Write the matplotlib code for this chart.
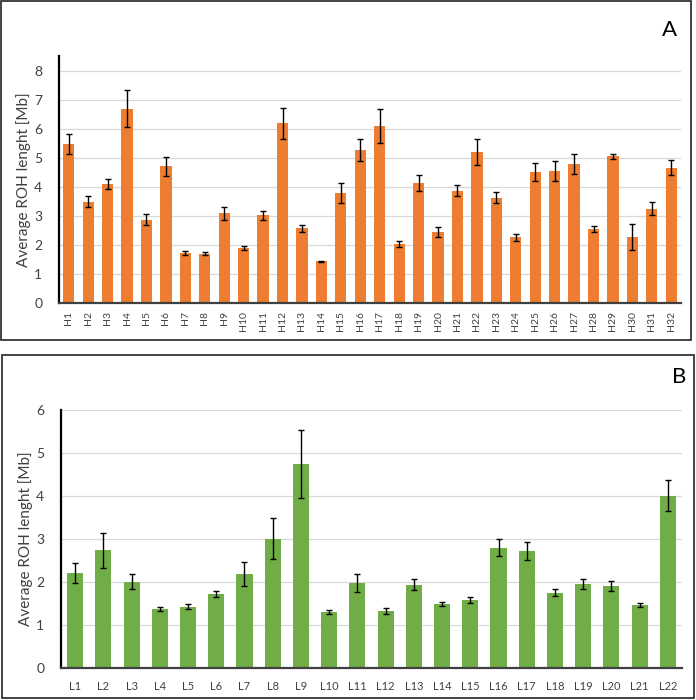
import matplotlib.pyplot as plt
from matplotlib.patches import Rectangle

plt.rcParams['font.family'] = ['Lato', 'DejaVu Sans']

# panel A data
h_labels = ['H' + str(i) for i in range(1, 33)]
h_vals = [5.47, 3.49, 4.10, 6.69, 2.87, 4.71, 1.72, 1.70, 3.08, 1.89,
          3.02, 6.19, 2.57, 1.44, 3.78, 5.26, 6.09, 2.04, 4.13, 2.43,
          3.86, 5.19, 3.62, 2.27, 4.52, 4.55, 4.79, 2.55, 5.05, 2.27,
          3.25, 4.65]
h_err = [0.35, 0.20, 0.18, 0.63, 0.18, 0.33, 0.06, 0.05, 0.23, 0.07,
         0.15, 0.53, 0.13, 0.02, 0.34, 0.38, 0.57, 0.10, 0.28, 0.17,
         0.19, 0.44, 0.19, 0.12, 0.31, 0.34, 0.35, 0.11, 0.08, 0.46,
         0.22, 0.26]

# panel B data
l_labels = ['L' + str(i) for i in range(1, 23)]
l_vals = [2.21, 2.74, 2.01, 1.37, 1.43, 1.72, 2.19, 3.01, 4.74, 1.30,
          1.98, 1.33, 1.94, 1.49, 1.58, 2.80, 2.72, 1.75, 1.96, 1.91,
          1.47, 4.01]
l_err = [0.23, 0.41, 0.18, 0.05, 0.05, 0.08, 0.28, 0.48, 0.79, 0.05,
         0.21, 0.075, 0.135, 0.04, 0.07, 0.20, 0.20, 0.08, 0.12, 0.11,
         0.05, 0.36]

ORANGE = '#ED7D31'
GREEN = '#70AD47'
TXT = '#404040'

fig = plt.figure(figsize=(6.96, 7.00), dpi=100)

# panel frames
fig.add_artist(Rectangle((1/696, 1 - 340/700), 690/696, 339/700, transform=fig.transFigure,
                         fill=False, edgecolor='#222222', linewidth=1.2))
fig.add_artist(Rectangle((2/696, 1 - 698/700), 692/696, 343/700, transform=fig.transFigure,
                         fill=False, edgecolor='#222222', linewidth=1.2))


def style(ax, n, ymax, yticks):
    ax.set_xlim(-0.5, n - 0.5)
    ax.set_ylim(0, ymax)
    ax.set_yticks(yticks)
    ax.yaxis.grid(True, color='#D9D9D9', linewidth=0.9)
    ax.set_axisbelow(True)
    for s in ['top', 'right']:
        ax.spines[s].set_visible(False)
    ax.spines['left'].set_color('black')
    ax.spines['left'].set_linewidth(1.6)
    ax.spines['bottom'].set_color('#404040')
    ax.spines['bottom'].set_linewidth(1.6)
    ax.tick_params(axis='both', length=0, colors=TXT)
    ax.tick_params(axis='y', labelsize=10, pad=12)
    ax.set_ylabel('Average ROH lenght [Mb]', fontsize=11, color=TXT, labelpad=2)


axA = fig.add_axes([59/696, 1 - 303/700, 622/696, 247/700])
axA.bar(range(len(h_vals)), h_vals, width=0.58, color=ORANGE, zorder=2,
        yerr=h_err, capsize=2, error_kw=dict(ecolor='black', elinewidth=1, capthick=1))
style(axA, len(h_vals), 8.5, range(0, 9))
axA.set_xticks(range(len(h_labels)))
axA.set_xticklabels(h_labels, rotation=90, fontsize=7.5)
axA.tick_params(axis='x', pad=6)
fig.text(670/696, 1 - 30/700, 'A', fontsize=16, ha='center', va='center')

axB = fig.add_axes([61/696, 1 - 668/700, 621/696, 258/700])
axB.bar(range(len(l_vals)), l_vals, width=0.57, color=GREEN, zorder=2,
        yerr=l_err, capsize=2, error_kw=dict(ecolor='black', elinewidth=1, capthick=1))
style(axB, len(l_vals), 6, range(0, 7))
axB.set_xticks(range(len(l_labels)))
axB.set_xticklabels(l_labels, fontsize=8)
axB.tick_params(axis='x', pad=9)
fig.text(679/696, 1 - 377/700, 'B', fontsize=16, ha='center', va='center')

fig.savefig('out.png', dpi=100)
